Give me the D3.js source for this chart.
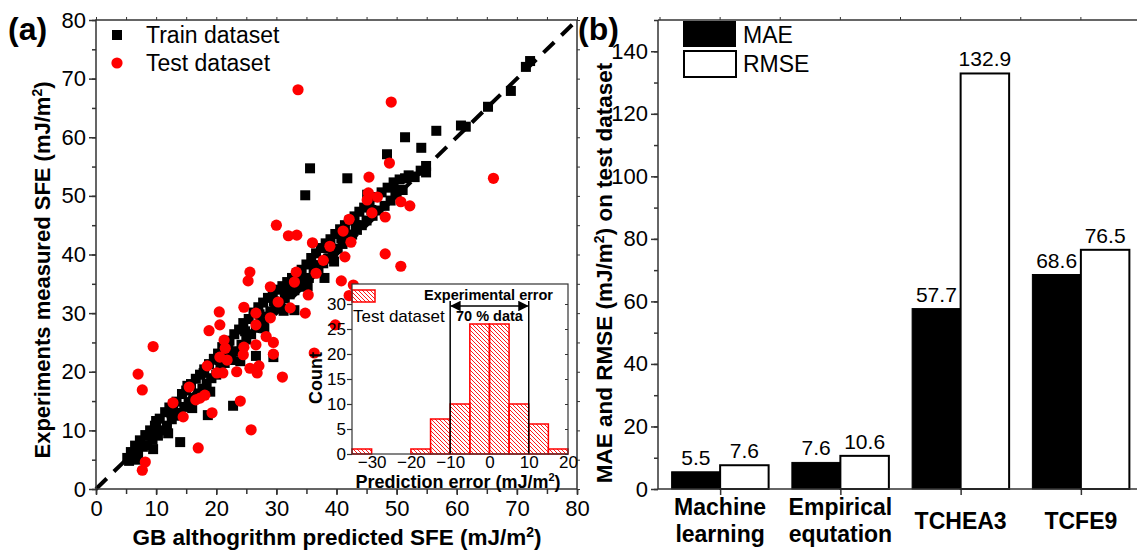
<!DOCTYPE html>
<html>
<head>
<meta charset="utf-8">
<script src="https://cdn.jsdelivr.net/npm/d3@7"></script>
<style>
  body { margin: 0; background: #fff; }
  text { font-family: "Liberation Sans", Arial, sans-serif; fill: #000; }
</style>
</head>
<body>
<svg id="chart" width="1137" height="552"></svg>
<script>
// ---- panel (a) data: [predicted, measured] ----
var trainData = [
  [5.2,5.3],[5.5,4.8],[5.8,6.3],[6.2,5.5],[6.5,7.4],[7.0,6.1],[7.3,8.3],[7.8,7.2],[8.2,9.2],[8.5,7.5],
  [9.0,10.0],[9.4,8.4],[9.8,10.8],[10.3,9.1],[10.6,12.0],[11.0,10.0],[11.5,13.1],[11.8,10.8],[12.2,13.9],[12.6,11.9],
  [13.0,12.5],[13.4,14.9],[13.8,13.0],[14.0,8.0],[14.3,16.2],[14.7,14.0],[15.0,16.8],[15.4,14.6],[15.8,17.9],[16.2,15.5],
  [16.6,18.8],[17.0,16.3],[17.3,19.5],[17.7,17.1],[18.0,20.4],[18.4,18.0],[18.6,12.6],[18.8,21.3],[19.2,18.9],[19.6,22.2],
  [20.0,19.5],[20.3,23.1],[20.7,20.4],[21.0,24.2],[21.4,21.5],[21.8,22.6],[22.2,25.3],[22.5,22.0],[22.8,14.2],[23.0,26.4],
  [23.4,23.5],[23.8,27.2],[24.2,24.6],[24.5,28.3],[25.0,25.5],[25.4,29.0],[25.8,26.4],[26.2,30.1],[26.6,22.7],[26.6,27.5],
  [27.0,31.0],[27.4,28.6],[27.8,31.8],[28.2,29.4],[28.6,32.6],[29.0,30.3],[29.5,22.5],[29.4,33.4],[29.8,31.0],[30.2,34.0],
  [30.6,31.8],[31.0,34.6],[31.4,32.5],[31.8,35.3],[32.2,33.2],[32.6,36.0],[33.0,33.9],[33.4,36.8],[33.8,34.5],[34.2,37.4],
  [34.6,35.2],[35.0,38.3],[35.4,36.0],[35.8,39.4],[36.2,36.8],[36.6,40.2],[37.0,37.6],[37.4,41.1],[37.8,38.5],[38.2,41.9],
  [38.6,39.3],[39.0,42.6],[39.4,40.2],[39.8,43.5],[40.2,41.0],[40.6,44.3],[41.0,41.8],[41.4,45.0],[41.8,42.6],[42.2,45.8],
  [42.6,43.4],[43.0,46.5],[43.4,44.2],[43.8,47.3],[44.2,45.0],[44.6,48.0],[45.0,45.8],[45.5,48.9],[46.0,46.6],[46.5,49.8],
  [47.0,47.5],[47.5,50.6],[48.0,48.3],[48.5,51.4],[49.0,49.2],[49.5,52.3],[50.0,50.2],[50.5,52.8],[51.0,51.0],[52.0,53.5],
  [53.0,53.2],[54.0,54.3],[16.0,13.8],[19.0,16.6],[24.0,21.8],[33.0,30.5],[38.0,36.0],[12.0,9.5],[9.5,6.8],[6.8,5.0],
  [10.0,11.6],[12.8,14.4],[15.2,17.6],[17.9,19.8],[20.5,22.0],[22.0,23.8],[24.8,26.9],[27.2,29.8],[29.6,32.0],[31.6,33.8],
  [34.0,36.2],[36.4,38.2],[38.8,41.0],[40.8,42.8],[43.2,45.0],[45.8,47.6],[28.0,27.4],[31.2,30.4],[35.2,34.6],[39.6,38.8],
  [34.8,50.1],[35.6,54.7],[41.8,53.0],[45.1,50.2],[48.4,57.1],[49.8,50.7],[51.4,53.0],[52.6,53.3],[51.4,60.0],[54.1,58.2],
  [54.9,55.1],[54.9,54.0],[56.6,61.1],[60.7,62.0],[61.5,61.8],[65.2,65.2],[69.0,67.9],[71.5,72.0],[72.2,73.0]
];
var testData = [
  [33.6,68.1],[49.1,66.0],[66.1,53.0],[48.8,55.6],[45.4,53.2],[45.3,50.5],[46.8,49.8],[30.0,45.0],[32.0,43.2],[33.4,43.3],
  [36.0,42.0],[38.9,41.4],[37.8,39.0],[25.6,37.0],[25.3,35.5],[29.0,34.5],[33.3,37.0],[33.0,35.3],[36.6,36.8],[35.3,33.1],
  [34.8,30.0],[32.3,30.9],[30.3,31.9],[24.6,31.0],[26.6,30.0],[20.5,30.2],[20.6,28.0],[18.8,27.0],[21.3,25.4],[21.5,24.0],
  [26.6,28.0],[29.0,29.2],[28.3,26.0],[29.5,25.0],[29.5,23.0],[24.6,24.2],[26.6,24.6],[24.5,22.9],[9.5,24.3],[7.0,19.6],
  [18.5,21.0],[20.1,19.8],[21.1,19.8],[23.4,20.0],[25.6,20.6],[26.8,19.8],[31.0,19.1],[36.3,23.2],[7.7,16.9],[20.6,22.5],
  [21.8,22.0],[27.1,21.0],[15.5,17.4],[12.8,14.7],[16.6,15.2],[17.3,15.5],[18.1,16.0],[14.5,12.3],[19.3,13.0],[24.0,15.0],
  [25.8,10.1],[17.0,7.0],[8.2,4.6],[7.7,3.2],[45.1,49.3],[50.7,49.0],[52.2,48.3],[45.9,47.1],[48.1,46.4],[42.1,46.0],
  [41.1,44.0],[42.4,42.1],[41.4,39.6],[48.1,40.1],[50.7,38.0],[40.8,35.5],[42.8,34.8],[39.8,28.0],[42.1,33.0]
];

// ---- inset histogram ----
var binStarts = [-35, -30, -25, -20, -15, -10, -5, 0, 5, 10, 15];
var binCounts = [1, 0, 0, 1, 7, 10, 26, 26, 10, 6, 1];
var insetXTicks = [-30, -20, -10, 0, 10, 20];
var insetYTicks = [0, 5, 10, 15, 20, 25, 30];

// ---- panel (b) ----
var categories = ["Machine learning", "Empirical equtation", "TCHEA3", "TCFE9"];
var catLines = [["Machine", "learning"], ["Empirical", "equtation"], ["TCHEA3"], ["TCFE9"]];
var maeValues = [5.5, 8.5, 57.7, 68.6];
var maeLabels = ["5.5", "7.6", "57.7", "68.6"];
var rmseValues = [7.6, 10.6, 132.9, 76.5];
var rmseLabels = ["7.6", "10.6", "132.9", "76.5"];

var svg = d3.select("#chart");
var axisColor = "#333";

// ================= panel (a) =================
var xA = d3.scaleLinear().domain([0, 80]).range([96, 577]);
var yA = d3.scaleLinear().domain([0, 80]).range([489, 20]);

var gA = svg.append("g");

// minor + major ticks bottom / left
gA.append("g").attr("transform", "translate(0,489)")
  .call(d3.axisBottom(xA).tickValues(d3.range(0, 81, 5)).tickSize(5).tickFormat(""))
  .call(function (g) { g.select(".domain").remove(); g.selectAll("line").attr("stroke", axisColor).attr("stroke-width", 1.5); });
gA.append("g").attr("transform", "translate(0,489)")
  .call(d3.axisBottom(xA).tickValues(d3.range(0, 81, 10)).tickSize(6).tickPadding(5))
  .call(function (g) {
    g.select(".domain").remove();
    g.selectAll("line").attr("stroke", axisColor).attr("stroke-width", 1.5);
    g.selectAll("text").style("font-size", "22px");
  });
gA.append("g").attr("transform", "translate(96,0)")
  .call(d3.axisLeft(yA).tickValues(d3.range(0, 81, 5)).tickSize(4).tickFormat(""))
  .call(function (g) { g.select(".domain").remove(); g.selectAll("line").attr("stroke", axisColor).attr("stroke-width", 1.5); });
gA.append("g").attr("transform", "translate(96,0)")
  .call(d3.axisLeft(yA).tickValues(d3.range(0, 81, 10)).tickSize(7).tickPadding(3))
  .call(function (g) {
    g.select(".domain").remove();
    g.selectAll("line").attr("stroke", axisColor).attr("stroke-width", 1.5);
    g.selectAll("text").style("font-size", "22px");
  });
// top / right mirrored ticks
gA.append("g").attr("transform", "translate(0,20)")
  .call(d3.axisTop(xA).tickValues(d3.range(0, 81, 5)).tickSize(3).tickFormat(""))
  .call(function (g) { g.select(".domain").remove(); g.selectAll("line").attr("stroke", axisColor); });
gA.append("g").attr("transform", "translate(577,0)")
  .call(d3.axisRight(yA).tickValues(d3.range(0, 81, 5)).tickSize(3).tickFormat(""))
  .call(function (g) { g.select(".domain").remove(); g.selectAll("line").attr("stroke", axisColor); });

// points
gA.append("g").selectAll("rect").data(trainData).enter().append("rect")
  .attr("x", function (d) { return xA(d[0]) - 5; })
  .attr("y", function (d) { return yA(d[1]) - 5; })
  .attr("width", 10).attr("height", 10).attr("fill", "#000");

gA.append("line")
  .attr("x1", xA(0)).attr("y1", yA(0)).attr("x2", xA(80)).attr("y2", yA(80))
  .attr("stroke", "#000").attr("stroke-width", 4).attr("stroke-dasharray", "15,10");

gA.append("g").selectAll("circle").data(testData).enter().append("circle")
  .attr("cx", function (d) { return xA(d[0]); })
  .attr("cy", function (d) { return yA(d[1]); })
  .attr("r", 5.6).attr("fill", "#ff0000");

// frame
gA.append("rect").attr("x", 96).attr("y", 20).attr("width", 481).attr("height", 469)
  .attr("fill", "none").attr("stroke", axisColor).attr("stroke-width", 1.5);

// legend
gA.append("rect").attr("x", 112).attr("y", 30).attr("width", 10).attr("height", 10).attr("fill", "#000");
gA.append("text").attr("x", 146).attr("y", 43).style("font-size", "23px").text("Train dataset");
gA.append("circle").attr("cx", 117).attr("cy", 63).attr("r", 5.6).attr("fill", "#ff0000");
gA.append("text").attr("x", 146).attr("y", 71).style("font-size", "23px").text("Test dataset");

// titles
svg.append("text").attr("x", 8).attr("y", 40).style("font-size", "32px").style("font-weight", "bold").text("(a)");
var yTitleA = svg.append("text").attr("transform", "translate(50,270) rotate(-90)")
  .attr("text-anchor", "middle").style("font-size", "22px").style("font-weight", "bold");
yTitleA.append("tspan").text("Experiments measured SFE (mJ/m");
yTitleA.append("tspan").attr("dy", -8).style("font-size", "14px").text("2");
yTitleA.append("tspan").attr("dy", 8).text(")");
var xTitleA = svg.append("text").attr("x", 337).attr("y", 545)
  .attr("text-anchor", "middle").style("font-size", "22.5px").style("font-weight", "bold");
xTitleA.append("tspan").text("GB althogrithm predicted SFE (mJ/m");
xTitleA.append("tspan").attr("dy", -8).style("font-size", "14px").text("2");
xTitleA.append("tspan").attr("dy", 8).text(")");

// ================= inset =================
var xI = d3.scaleLinear().domain([-35, 20]).range([352, 568]);
var yI = d3.scaleLinear().domain([0, 34]).range([454, 284]);
var gI = svg.append("g");

var defs = svg.append("defs");
defs.append("pattern").attr("id", "hatch").attr("patternUnits", "userSpaceOnUse")
  .attr("width", 4).attr("height", 4)
  .append("path").attr("d", "M-1,-1 L5,5 M-1,3 L1,5 M3,-1 L5,1")
  .attr("stroke", "#ff0000").attr("stroke-width", 0.9);

gI.append("rect").attr("x", 352).attr("y", 284).attr("width", 216).attr("height", 170).attr("fill", "#fff");

var bins = binStarts.map(function (b, i) { return { x0: b, x1: b + 5, n: binCounts[i] }; })
  .filter(function (d) { return d.n > 0; });
gI.append("g").selectAll("rect").data(bins).enter().append("rect")
  .attr("x", function (d) { return xI(d.x0); })
  .attr("y", function (d) { return yI(d.n); })
  .attr("width", function (d) { return xI(d.x1) - xI(d.x0); })
  .attr("height", function (d) { return yI(0) - yI(d.n); })
  .attr("fill", "url(#hatch)").attr("stroke", "#ff0000").attr("stroke-width", 1.5);

// experimental error markers
[-10, 10].forEach(function (v) {
  gI.append("line").attr("x1", xI(v)).attr("x2", xI(v)).attr("y1", 301).attr("y2", 454)
    .attr("stroke", "#000").attr("stroke-width", 1.5);
});
defs.append("marker").attr("id", "arr").attr("viewBox", "0 0 10 10").attr("refX", 9).attr("refY", 5)
  .attr("markerWidth", 7).attr("markerHeight", 7).attr("orient", "auto-start-reverse")
  .append("path").attr("d", "M0,0 L10,5 L0,10 z").attr("fill", "#000");
gI.append("line").attr("x1", xI(-10) + 1).attr("x2", xI(10) - 1).attr("y1", 306).attr("y2", 306)
  .attr("stroke", "#000").attr("stroke-width", 1.5)
  .attr("marker-start", "url(#arr)").attr("marker-end", "url(#arr)");
gI.append("text").attr("x", xI(0)).attr("y", 321).attr("text-anchor", "middle")
  .style("font-size", "14.5px").style("font-weight", "bold").text("70 % data");
gI.append("text").attr("x", 553).attr("y", 300).attr("text-anchor", "end")
  .style("font-size", "14.5px").style("font-weight", "bold").text("Experimental error");
gI.append("rect").attr("x", 352).attr("y", 290).attr("width", 23).attr("height", 12)
  .attr("fill", "url(#hatch)").attr("stroke", "#ff0000").attr("stroke-width", 1.5);
gI.append("text").attr("x", 353).attr("y", 322).style("font-size", "17px").text("Test dataset");

// inset axes
gI.append("g").attr("transform", "translate(0,454)")
  .call(d3.axisBottom(xI).tickValues(insetXTicks).tickSize(0).tickPadding(2))
  .call(function (g) { g.select(".domain").remove(); g.selectAll("text").style("font-size", "17px"); });
gI.append("g").attr("transform", "translate(352,0)")
  .call(d3.axisLeft(yI).tickValues(insetYTicks).tickSize(5).tickPadding(1))
  .call(function (g) {
    g.select(".domain").remove();
    g.selectAll("line").attr("stroke", axisColor).attr("stroke-width", 1.2);
    g.selectAll("text").style("font-size", "17px");
  });
gI.append("g").attr("transform", "translate(568,0)")
  .call(d3.axisLeft(yI).tickValues(insetYTicks).tickSize(3).tickFormat(""))
  .call(function (g) { g.select(".domain").remove(); g.selectAll("line").attr("stroke", axisColor); });
gI.append("rect").attr("x", 352).attr("y", 284).attr("width", 216).attr("height", 170)
  .attr("fill", "none").attr("stroke", axisColor).attr("stroke-width", 1.2);
var xTitleI = gI.append("text").attr("x", 458).attr("y", 488).attr("text-anchor", "middle")
  .style("font-size", "18px").style("font-weight", "bold");
xTitleI.append("tspan").text("Prediction error (mJ/m");
xTitleI.append("tspan").attr("dy", -7).style("font-size", "11px").text("2");
xTitleI.append("tspan").attr("dy", 7).text(")");
gI.append("text").attr("transform", "translate(322,378) rotate(-90)").attr("text-anchor", "middle")
  .style("font-size", "18px").style("font-weight", "bold").text("Count");

// ================= panel (b) =================
var xB = d3.scalePoint().domain(categories).range([660, 1141]).padding(0.5);
var yB = d3.scaleLinear().domain([0, 150]).range([489, 20]);
var barW = 48.5;
var gB = svg.append("g");

gB.append("g").attr("transform", "translate(658,0)")
  .call(d3.axisLeft(yB).tickValues(d3.range(0, 151, 10)).tickSize(4).tickFormat(""))
  .call(function (g) { g.select(".domain").remove(); g.selectAll("line").attr("stroke", axisColor).attr("stroke-width", 1.5); });
gB.append("g").attr("transform", "translate(658,0)")
  .call(d3.axisLeft(yB).tickValues(d3.range(0, 141, 20)).tickSize(7).tickPadding(3))
  .call(function (g) {
    g.select(".domain").remove();
    g.selectAll("line").attr("stroke", axisColor).attr("stroke-width", 1.5);
    g.selectAll("text").style("font-size", "22px");
  });
gB.append("g").attr("transform", "translate(0,489)")
  .call(d3.axisBottom(xB).tickSize(6).tickFormat(""))
  .call(function (g) { g.select(".domain").remove(); g.selectAll("line").attr("stroke", axisColor).attr("stroke-width", 1.5); });

var step = xB.step();
gB.append("g").selectAll("line").data(d3.range(0, 8)).enter().append("line")
  .attr("x1", function (i) { return 660 + step * i / 2; })
  .attr("x2", function (i) { return 660 + step * i / 2; })
  .attr("y1", 20).attr("y2", 17).attr("stroke", axisColor);

gB.append("line").attr("x1", 658).attr("x2", 1137).attr("y1", 20).attr("y2", 20)
  .attr("stroke", axisColor).attr("stroke-width", 1.5);

gB.append("g").selectAll("rect").data(categories).enter().append("rect")
  .attr("x", function (d) { return xB(d) - barW; })
  .attr("y", function (d, i) { return yB(maeValues[i]); })
  .attr("width", barW)
  .attr("height", function (d, i) { return yB(0) - yB(maeValues[i]); })
  .attr("fill", "#000").attr("stroke", "#000").attr("stroke-width", 1);
gB.append("g").selectAll("rect").data(categories).enter().append("rect")
  .attr("x", function (d) { return xB(d); })
  .attr("y", function (d, i) { return yB(rmseValues[i]); })
  .attr("width", barW)
  .attr("height", function (d, i) { return yB(0) - yB(rmseValues[i]); })
  .attr("fill", "#fff").attr("stroke", "#000").attr("stroke-width", 2);

gB.append("g").selectAll("text").data(categories).enter().append("text")
  .attr("x", function (d) { return xB(d) - barW / 2; })
  .attr("y", function (d, i) { return yB(maeValues[i]) - 7; })
  .attr("text-anchor", "middle").style("font-size", "21px")
  .text(function (d, i) { return maeLabels[i]; });
gB.append("g").selectAll("text").data(categories).enter().append("text")
  .attr("x", function (d) { return xB(d) + barW / 2; })
  .attr("y", function (d, i) { return yB(rmseValues[i]) - 7; })
  .attr("text-anchor", "middle").style("font-size", "21px")
  .text(function (d, i) { return rmseLabels[i]; });

gB.append("line").attr("x1", 658).attr("x2", 1137).attr("y1", 489).attr("y2", 489)
  .attr("stroke", axisColor).attr("stroke-width", 1.5);
gB.append("line").attr("x1", 658).attr("x2", 658).attr("y1", 20).attr("y2", 489)
  .attr("stroke", axisColor).attr("stroke-width", 1.5);

// category labels
categories.forEach(function (c, i) {
  var lines = catLines[i];
  var t = gB.append("text").attr("text-anchor", "middle")
    .style("font-size", "23px").style("font-weight", "bold");
  if (lines.length === 2) {
    t.append("tspan").attr("x", xB(c)).attr("y", 515).text(lines[0]);
    t.append("tspan").attr("x", xB(c)).attr("y", 542).text(lines[1]);
  } else {
    t.append("tspan").attr("x", xB(c)).attr("y", 529).text(lines[0]);
  }
});

// legend b
gB.append("rect").attr("x", 683).attr("y", 21).attr("width", 53).attr("height", 26).attr("fill", "#000");
gB.append("rect").attr("x", 684).attr("y", 51).attr("width", 52).attr("height", 26)
  .attr("fill", "#fff").attr("stroke", "#000").attr("stroke-width", 2);
gB.append("text").attr("x", 743).attr("y", 43).style("font-size", "23px").text("MAE");
gB.append("text").attr("x", 743).attr("y", 72).style("font-size", "23px").text("RMSE");

svg.append("text").attr("x", 578).attr("y", 40).style("font-size", "32px").style("font-weight", "bold").text("(b)");
var yTitleB = svg.append("text").attr("transform", "translate(612,273) rotate(-90)")
  .attr("text-anchor", "middle").style("font-size", "22.5px").style("font-weight", "bold");
yTitleB.append("tspan").text("MAE and RMSE (mJ/m");
yTitleB.append("tspan").attr("dy", -8).style("font-size", "14px").text("2");
yTitleB.append("tspan").attr("dy", 8).text(") on test dataset");
</script>
</body>
</html>
